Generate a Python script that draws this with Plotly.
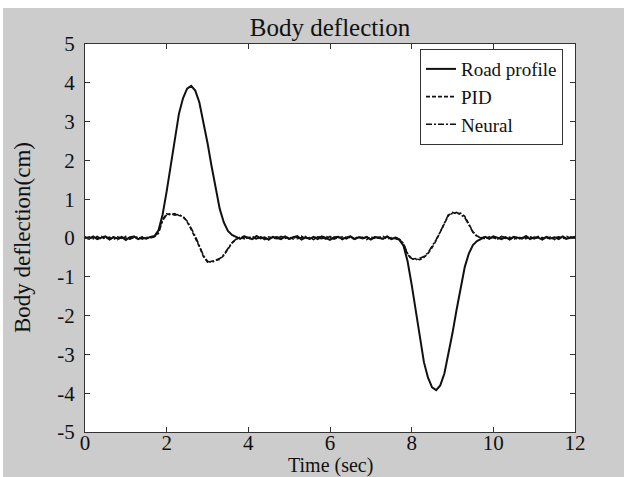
import plotly.graph_objects as go

TIME = [round(i * 0.1, 1) for i in range(121)]

ROAD_PROFILE = [
    0.03, -0.02, 0.04, -0.03, 0.01, 0.04, -0.04, 0.02, -0.01, 0.03,
    -0.05, 0.02, 0.04, -0.03, 0.01, -0.02, 0.03,
    0.05, 0.2, 0.6, 1.2, 1.9, 2.6, 3.2, 3.6, 3.85, 3.92, 3.8, 3.5, 3.0,
    2.45, 1.85, 1.25, 0.75, 0.4, 0.18, 0.08, 0.03,
    -0.02, 0.04, 0.01, -0.03, 0.05, -0.01, 0.02, -0.04, 0.03, 0.00,
    -0.03, 0.04, -0.02, 0.02, 0.05, -0.04, 0.01, -0.02, 0.03, -0.03,
    0.04, 0.00, -0.05, 0.02, 0.03, -0.02, 0.01, 0.04, -0.03, 0.02,
    -0.01, 0.03, -0.04, 0.02, 0.00, -0.02, 0.04, -0.03, 0.01,
    -0.05, -0.2, -0.6, -1.2, -1.9, -2.6, -3.2, -3.6, -3.85, -3.92,
    -3.8, -3.5, -3.0, -2.45, -1.85, -1.25, -0.75, -0.4, -0.18, -0.08, -0.02,
    0.03, -0.02, 0.04, 0.01, -0.03, 0.02, -0.04, 0.03, 0.00, -0.02,
    0.05, -0.03, 0.02, 0.01, -0.04, 0.03, -0.01, 0.02, -0.03, 0.04,
    -0.02, 0.01, 0.03,
]

PID = [
    0.02, -0.03, 0.03, -0.01, 0.04, -0.02, 0.01, 0.03, -0.04, 0.02,
    0.00, -0.03, 0.04, -0.02, 0.03, -0.01, 0.02, 0.04,
    0.15, 0.48, 0.62, 0.6, 0.63, 0.58, 0.56, 0.42, 0.22, 0.02,
    -0.22, -0.48, -0.62, -0.6, -0.58, -0.55, -0.45, -0.3, -0.13, -0.04,
    0.03, -0.02, 0.01, 0.04, -0.03, 0.02, -0.04, 0.03, 0.00, -0.02,
    0.04, -0.01, 0.03, -0.03, 0.02, 0.05, -0.02, 0.01, -0.04, 0.03,
    0.02, -0.03, 0.04, -0.01, 0.00, 0.03, -0.02, 0.04, -0.03, 0.01,
    0.02, -0.04, 0.03, -0.01, 0.02, 0.04, -0.03, 0.01, -0.02,
    -0.04, -0.16, -0.42, -0.55, -0.53, -0.56, -0.5, -0.4, -0.25, -0.06,
    0.14, 0.38, 0.58, 0.66, 0.62, 0.64, 0.56, 0.36, 0.16, 0.05, 0.01,
    -0.02, 0.03, 0.01, -0.03, 0.04, -0.01, 0.02, -0.04, 0.03, 0.00,
    -0.02, 0.04, -0.03, 0.02, 0.01, -0.02, 0.03, -0.04, 0.02, 0.01,
    -0.03, 0.03, 0.00,
]

NEURAL = [
    -0.01, 0.03, -0.02, 0.04, -0.03, 0.01, 0.02, -0.04, 0.03, -0.01,
    0.04, -0.02, 0.01, 0.03, -0.03, 0.02, 0.00, 0.03,
    0.12, 0.45, 0.6, 0.63, 0.59, 0.61, 0.54, 0.44, 0.25, 0.05,
    -0.2, -0.45, -0.6, -0.63, -0.57, -0.53, -0.43, -0.28, -0.12, -0.03,
    0.02, 0.04, -0.03, 0.01, -0.02, 0.03, 0.00, -0.04, 0.02, 0.03,
    -0.01, 0.04, -0.03, 0.02, -0.02, 0.01, 0.04, -0.03, 0.03, 0.00,
    -0.02, 0.04, 0.01, -0.03, 0.02, -0.04, 0.03, 0.01, -0.02, 0.04,
    -0.01, 0.02, -0.03, 0.03, 0.00, -0.02, 0.04, -0.03, 0.02,
    -0.03, -0.14, -0.4, -0.53, -0.56, -0.52, -0.48, -0.38, -0.22, -0.04,
    0.16, 0.4, 0.6, 0.63, 0.66, 0.6, 0.53, 0.34, 0.15, 0.04, 0.0,
    0.03, -0.01, 0.02, -0.03, 0.04, 0.01, -0.02, 0.03, -0.04, 0.02,
    0.00, 0.03, -0.02, 0.04, -0.01, 0.02, -0.03, 0.01, 0.03, -0.02,
    0.04, -0.01, 0.02,
]

X_TICKS = [0, 2, 4, 6, 8, 10, 12]
Y_TICKS = [-5, -4, -3, -2, -1, 0, 1, 2, 3, 4, 5]

FONT = "Liberation Serif"

fig = go.Figure()
fig.add_trace(go.Scatter(x=TIME, y=ROAD_PROFILE, mode="lines", name="Road profile",
                         line=dict(color="#111111", width=2)))
fig.add_trace(go.Scatter(x=TIME, y=PID, mode="lines", name="PID",
                         line=dict(color="#111111", width=1.6, dash="4px,2px")))
fig.add_trace(go.Scatter(x=TIME, y=NEURAL, mode="lines", name="Neural",
                         line=dict(color="#111111", width=1.6, dash="6px,2px,2px,2px")))

axis_common = dict(
    showgrid=False, zeroline=False, showline=True, linecolor="#333333", linewidth=1,
    mirror="ticks", ticks="inside", ticklen=5, tickcolor="#333333", tickwidth=1,
    tickfont=dict(family=FONT, size=21, color="#111111"), automargin=False,
)

fig.update_layout(
    width=621, height=469,
    margin=dict(l=82, r=49, t=36, b=45),
    paper_bgcolor="#cccccc", plot_bgcolor="white",
    font=dict(family=FONT, color="#111111"),
    title=dict(text="Body deflection", x=0.5, xanchor="center", xref="paper",
               y=1, yref="paper", yanchor="bottom", pad=dict(b=8),
               font=dict(family=FONT, size=25, color="#111111")),
    xaxis=dict(range=[0, 12], tickvals=X_TICKS, ticktext=[str(v) for v in X_TICKS],
               ticklabelstandoff=-8, **axis_common),
    yaxis=dict(range=[-5, 5], tickvals=Y_TICKS, ticktext=[str(v) for v in Y_TICKS],
               ticklabelstandoff=5, **axis_common),
    legend=dict(x=0.9755, xanchor="right", y=0.987, yanchor="top",
                bgcolor="white", bordercolor="#333333", borderwidth=1,
                font=dict(family=FONT, size=19, color="#111111"),
                itemwidth=30, tracegroupgap=0),
    showlegend=True,
    annotations=[
        dict(text="Time (sec)", xref="paper", yref="paper", x=0.5, y=-34 / 388,
             xanchor="center", yanchor="middle", showarrow=False,
             font=dict(family=FONT, size=20, color="#111111")),
        dict(text="Body deflection(cm)", xref="paper", yref="paper", x=-(82 - 19) / 490, y=0.5,
             xanchor="center", yanchor="middle", textangle=-90, showarrow=False,
             font=dict(family=FONT, size=23, color="#111111")),
    ],
)

fig.write_html("out.html", post_script="document.body.style.margin='8px 0 0 3px';")
